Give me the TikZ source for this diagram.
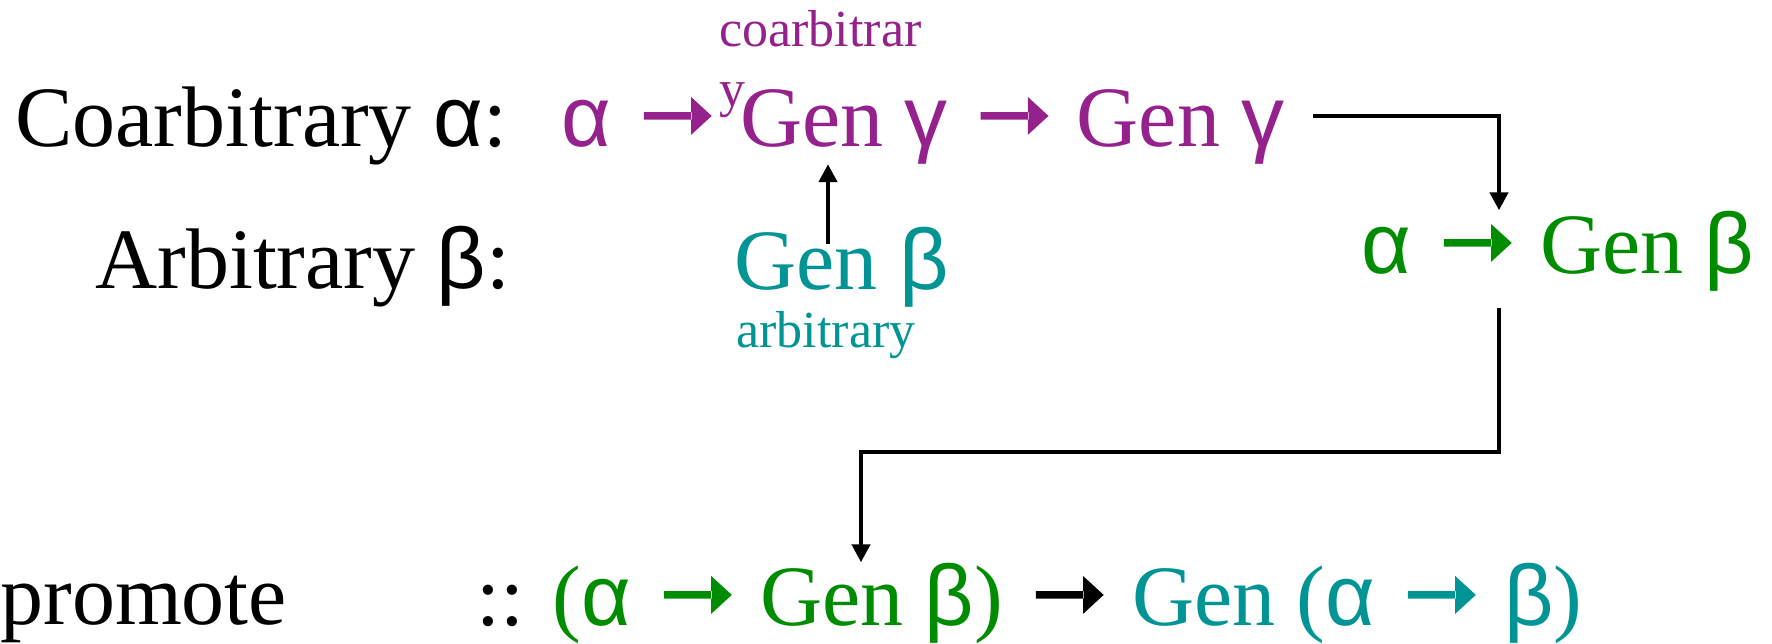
\documentclass[tikz,border=0pt]{standalone}
\usepackage{fontspec}
\setmainfont{Liberation Serif}
\newfontfamily\grk{Liberation Sans}
\usepackage{tikz}
\usetikzlibrary{arrows.meta,positioning,calc}
\usepackage{xcolor}

\definecolor{coPurple}{RGB}{149,33,140}
\definecolor{arbTeal}{RGB}{0,148,148}
\definecolor{funGreen}{RGB}{0,140,0}

\newcommand{\ga}{{\grk α}}
\newcommand{\gb}{{\grk β}}
\newcommand{\gc}{{\grk γ}}
% fat arrow of the slide font
\newcommand{\sarr}{\kern0.13em\tikz[baseline=-0.35em]\fill (0,-0.043em) rectangle (0.56em,0.043em) (0.55em,-0.22em) -- (0.79em,0) -- (0.55em,0.22em) -- cycle;\kern0.08em}

\begin{document}
\begin{tikzpicture}[x=0.5pt,y=-0.5pt,
    txt/.style={anchor=base west,inner sep=0pt,font=\fontsize{43}{50}\selectfont},
    small/.style={anchor=base west,inner sep=0pt,align=left,font=\fontsize{26}{30}\selectfont},
    conn/.style={line width=2.2pt,-{Triangle[length=9pt,width=9pt]}}]
    \fill[white] (0,0) rectangle (1772,643);
    \useasboundingbox (0,0) rectangle (1772,643);

    % 左侧标签
    \node[txt] (coLbl) at (15,146) {Coarbitrary \ga:};
    \node[txt] (arLbl) at (95,288) {Arbitrary \gb:};
    \node[txt] (prLbl) at (0,624) {promote};

    % coarbitrary 一行
    \node[txt,text=coPurple] (coSig) at (561,146) {\ga{} \sarr{} Gen \gc{} \sarr{} Gen \gc};
    \node[small,text=coPurple] (coNote) at (719,106) {coarbitrar\\y};

    % arbitrary 一行
    \node[txt,text=arbTeal] (genB) at (734,289) {Gen \gb};
    \node[small,text=arbTeal] (arNote) at (736,347) {arbitrary};

    % 中间结果
    \node[txt,text=funGreen] (fnB) at (1361,273) {\ga{} \sarr{} Gen \gb};

    % promote 的类型
    \node[txt] (prType) at (476,625) {:: \textcolor{funGreen}{(\ga{} \sarr{} Gen \gb)} \sarr{} \textcolor{arbTeal}{Gen (\ga{} \sarr{} \gb)}};

    % 连线
    \coordinate (upFoot) at ($(genB.north west)+(94,18)$);
    \draw[conn] (upFoot) -- (upFoot |- coSig.south);
    \draw[conn] ($(coSig.base east)+(28,-30)$) -| ($(fnB.north west)+(138,0)$);
    \draw[conn] ($(fnB.base west)+(138,35)$) -- ++(0,144) -| ($(prType.north west)+(385,0)$);
\end{tikzpicture}
\end{document}
